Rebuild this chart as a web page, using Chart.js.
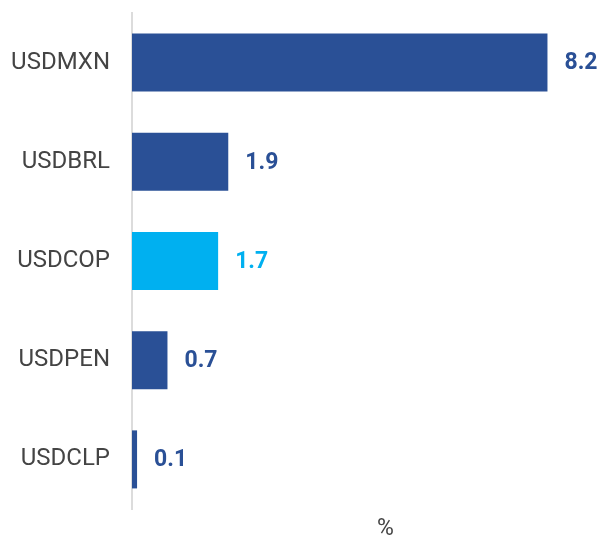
<!DOCTYPE HTML>
<html>
<head>
  <script src="https://cdn.jsdelivr.net/npm/chart.js"></script>
  <style>
    body { margin: 0; background: #fff; }
    #wrap { width: 600px; height: 539px; }
  </style>
</head>
<body>
  <div id="wrap"><canvas id="fxChart"></canvas></div>

  <script>
    // currency pairs and their moves (%)
    var pairs = ['USDMXN', 'USDBRL', 'USDCOP', 'USDPEN', 'USDCLP'];
    var moves = [8.2, 1.9, 1.7, 0.7, 0.1];
    var barColors = ['#2a5096', '#2a5096', '#00b0f0', '#2a5096', '#2a5096'];
    var unitLabel = '%';

    // draws the value next to each bar, plus the unit under the chart
    var valueLabels = {
      id: 'valueLabels',
      afterDatasetsDraw: function(chart) {
        var ctx = chart.ctx;
        var meta = chart.getDatasetMeta(0);
        ctx.save();
        ctx.font = 'bold 23px Roboto';
        ctx.textBaseline = 'middle';
        ctx.textAlign = 'left';
        meta.data.forEach(function(bar, i) {
          ctx.fillStyle = barColors[i];
          ctx.fillText(moves[i].toFixed(1), bar.x + 17, bar.y + 1);
        });
        ctx.font = '23px Roboto';
        ctx.fillStyle = '#444444';
        ctx.textAlign = 'center';
        ctx.fillText(unitLabel, chart.scales.x.getPixelForValue(5), chart.chartArea.bottom + 20);
        ctx.restore();
      }
    };

    var myContext = document.getElementById('fxChart').getContext('2d');
    var myChart = new Chart(myContext, {
      type: 'bar',
      data: {
        labels: pairs,
        datasets: [{
          data: moves,
          backgroundColor: barColors,
          categoryPercentage: 1,
          barPercentage: 0.585
        }]
      },
      options: {
        indexAxis: 'y',
        responsive: true,
        maintainAspectRatio: false,
        animation: false,
        layout: { padding: { top: 13, bottom: 30, right: 12, left: 0 } },
        plugins: {
          legend: { display: false },
          tooltip: { enabled: false }
        },
        scales: {
          x: {
            display: false,
            min: 0,
            max: 9
          },
          y: {
            grid: { display: false, drawTicks: false },
            border: { display: true, color: '#dcdcdc', width: 2 },
            ticks: {
              color: '#444444',
              padding: 22,
              font: { family: 'Roboto', size: 24 }
            },
            afterFit: function(scale) {
              scale.width = 132;
              scale.paddingTop = 0;
              scale.paddingBottom = 0;
            }
          }
        }
      },
      plugins: [valueLabels]
    });
  </script>
</body>
</html>
